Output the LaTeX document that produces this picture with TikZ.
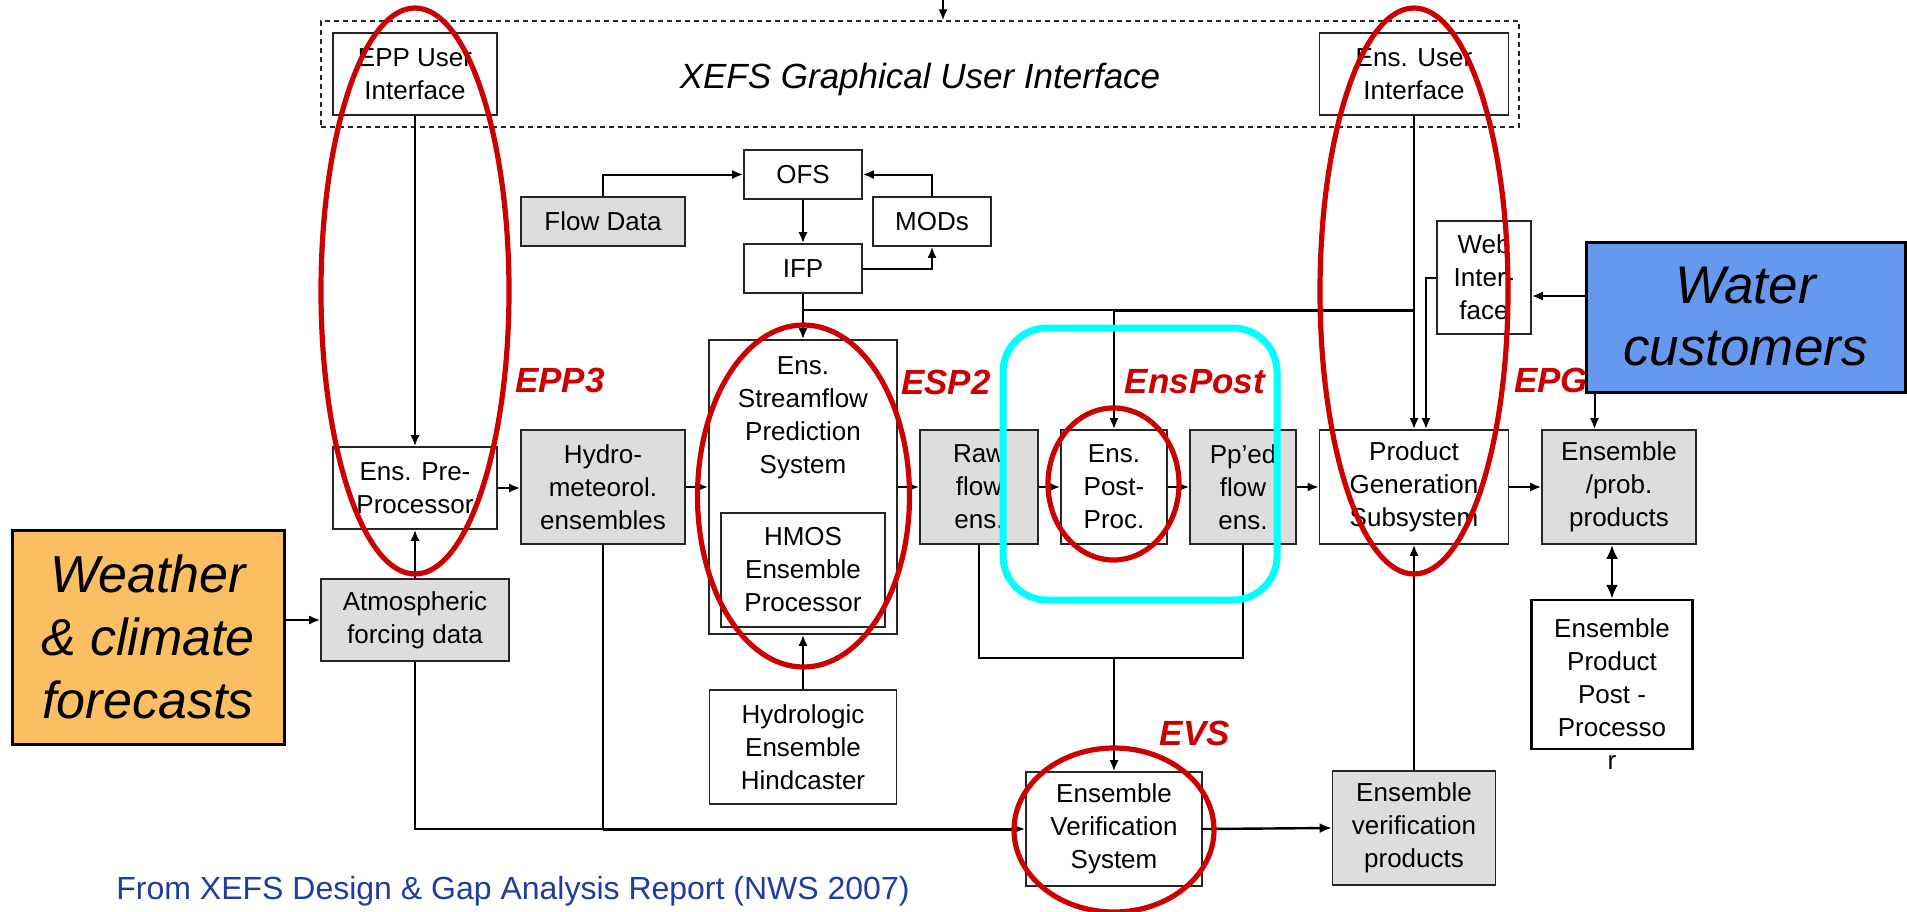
\documentclass[tikz,border=0pt]{standalone}
\usepackage{fontspec}
\setmainfont{Liberation Sans}
\usetikzlibrary{arrows.meta,calc}
\definecolor{boxgray}{HTML}{DDDDDD}
\definecolor{wxorange}{HTML}{FBBF63}
\definecolor{wcblue}{HTML}{6699EE}
\definecolor{hired}{HTML}{CC0000}
\definecolor{capblue}{HTML}{1F3C9E}
\definecolor{ringcyan}{HTML}{00FFFF}
\begin{document}
\begin{tikzpicture}[x=0.5pt,y=-0.5pt,
  box/.style={draw=black!85, line width=0.8pt, inner sep=0pt, align=center, font=\fontsize{13}{16.5}\selectfont},
  gbox/.style={box, fill=boxgray},
  plain/.style={inner sep=0pt, align=center, font=\fontsize{13}{16.5}\selectfont},
  conn/.style={line width=1pt},
  arr/.style={conn, -{Latex[length=5.5pt,width=4.5pt]}},
  dblarr/.style={line width=1.4pt, {Latex[length=7pt,width=6pt]}-{Latex[length=7pt,width=6pt]}},
  ring/.style={draw=hired, line width=2.6pt},
  tag/.style={text=hired, inner sep=0pt, font=\fontsize{17.5}{19}\selectfont\bfseries\itshape},
]
\useasboundingbox (0,0) rectangle (1907,911);
% GUI frame
\node[draw=black!85, line width=0.6pt, dash pattern=on 2.5pt off 2pt, minimum width=599pt, minimum height=53pt, inner sep=0pt] (gui) at (920,74) {};
\node[inner sep=0pt, font=\fontsize{17.5}{20}\selectfont\itshape] (guitxt) at (920,79) {XEFS Graphical User Interface};
% boxes
\node[box, minimum width=82pt, minimum height=41pt] (eppui) at (415,74) {EPP User\\Interface};
\node[box, minimum width=94.5pt, minimum height=41pt] (ensui) at (1414,74) {Ens. User\\Interface};
\node[box, minimum width=59pt, minimum height=24.5pt] (ofs) at (803,174.5) {OFS};
\node[gbox, minimum width=82pt, minimum height=24.5pt] (flow) at (603,221.5) {Flow Data};
\node[box, minimum width=59pt, minimum height=24.5pt] (mods) at (932,221.5) {MODs};
\node[box, minimum width=59pt, minimum height=24.5pt] (ifp) at (803,268.5) {IFP};
\node[box, minimum width=47pt, minimum height=56.5pt] (web) at (1484,277.5) {Web\\Inter-\\face};
\node[box, minimum width=82pt, minimum height=41pt] (enspre) at (415,488) {Ens. Pre-\\Processor};
\node[gbox, minimum width=82pt, minimum height=57pt] (hydro) at (603,487) {Hydro-\\meteorol.\\ensembles};
\node[box, minimum width=94pt, minimum height=147pt] (esp) at (803,487) {};
\node[plain, anchor=north] (esptxt) at (803,356) {Ens.\\Streamflow\\Prediction\\System};
\node[box, minimum width=82pt, minimum height=57pt] (hmos) at (803,570) {HMOS\\Ensemble\\Processor};
\node[gbox, minimum width=59pt, minimum height=57pt] (raw) at (979,487) {Raw\\flow\\ens.};
\node[box, minimum width=53pt, minimum height=57pt] (post) at (1114,487) {Ens.\\Post-\\Proc.};
\node[gbox, minimum width=53pt, minimum height=57pt] (pped) at (1243,487) {Pp’ed\\flow\\ens.};
\node[box, minimum width=94.5pt, minimum height=57pt] (prod) at (1414,487) {Product\\Generation\\Subsystem};
\node[gbox, minimum width=77pt, minimum height=57pt] (ensprob) at (1619,487) {Ensemble\\/prob.\\products};
\node[box, line width=1.2pt, draw=black, minimum width=80.5pt, minimum height=74.5pt] (eppp) at (1612,674.5) {};
\node[plain, anchor=north] (eppptxt) at (1612,618) {Ensemble\\Product\\Post -\\Processo\\r};
\node[box, draw=black, line width=1.5pt, fill=wxorange, minimum width=136pt, minimum height=107pt,
  font=\fontsize{26}{31.5}\selectfont\itshape] (weather) at (148,637) {Weather\\\& climate\\forecasts};
\node[gbox, minimum width=94pt, minimum height=41pt] (atmos) at (415,620) {Atmospheric\\forcing data};
\node[box, minimum width=93.5pt, minimum height=57pt] (hind) at (803,747) {Hydrologic\\Ensemble\\Hindcaster};
\node[box, minimum width=88pt, minimum height=57pt] (evs) at (1114,829) {Ensemble\\Verification\\System};
\node[gbox, minimum width=81.5pt, minimum height=57pt] (evp) at (1414,828) {Ensemble\\verification\\products};
% connectors
\coordinate (topin) at (943,0);
\draw[arr] (topin) -- (topin |- gui.north);
\draw[arr] (eppui.south) -- (enspre.north);
\draw[arr] (atmos.north) -- (enspre.south);
\draw[arr] (weather.east |- atmos.west) -- (atmos.west);
\draw[arr] (enspre.east) -- (hydro.west |- enspre.east);
\draw[arr] (hydro.east) -- (esp.west);
\draw[arr] (esp.east) -- (raw.west);
\draw[arr] (raw.east) -- (post.west);
\draw[arr] (post.east) -- (pped.west);
\draw[arr] (pped.east) -- (prod.west);
\draw[arr] (prod.east) -- (ensprob.west);
\draw[dblarr] (eppp.north) -- (eppp.north |- ensprob.south);
\draw[arr] (flow.north) |- (ofs.west);
\draw[arr] (mods.north) |- (ofs.east);
\draw[arr] (ofs.south) -- (ifp.north);
\draw[arr] (ifp.east) -| (mods.south);
\draw[arr] (ifp.south) -- (esp.north);
\coordinate (br) at (803,310);
\coordinate (brp) at (1114,310);
\draw[conn] (br) -- (brp);
\draw[line width=1.5pt] (brp) -- (brp -| ensui.south);
\draw[arr] (brp) -- (post.north);
\draw[arr] (ensui.south) -- (prod.north);
\draw[arr] (web.west) -| ($(prod.north)+(12,0)$);
\coordinate (fj) at (1114,658);
\draw[conn] (raw.south) |- (fj) -| (pped.south);
\draw[arr] (fj) -- (evs.north);
\coordinate (vb) at (415,829);
\draw[conn] (atmos.south) -- (vb) -- (hydro.south |- vb);
\draw[conn] (hydro.south) -- (hydro.south |- vb);
\draw[line width=1.5pt, -{Latex[length=6pt,width=5pt]}] (hydro.south |- vb) -- (evs.west |- vb);
\draw[arr] (hind.north) -- (esp.south);
\draw[line width=1.2pt, -{Latex[length=6pt,width=5pt]}] (evs.east) -- (evp.west);
\draw[arr] (evp.north) -- (prod.south);
% highlight rings
\draw[draw=ringcyan, line width=3.5pt, rounded corners=22pt] (1003,328) rectangle (1277,600);
\draw[ring] (415,291) ellipse [x radius=47pt, y radius=141.5pt];
\draw[ring] (1414,291) ellipse [x radius=47pt, y radius=141.5pt];
\draw[ring] (803.5,496) ellipse [x radius=53pt, y radius=85.5pt];
\draw[ring] (1113.5,484) ellipse [x radius=32.75pt, y radius=38pt];
\draw[ring] (1114,830) ellipse [x radius=50pt, y radius=41pt];
\node[tag] (tepp) at (560,380) {EPP3};
\node[tag] (tesp) at (946,382) {ESP2};
\node[tag] (tensp) at (1195,382) {EnsPost};
\node[tag] (tepg) at (1551,380) {EPG};
\node[tag] (tevs) at (1195,733) {EVS};
% water customers (on top)
\node[box, draw=black, line width=1.5pt, fill=wcblue, minimum width=159.5pt, minimum height=75pt,
  font=\fontsize{26.5}{31}\selectfont\itshape] (water) at (1745.5,317) {Water\\customers};
\coordinate (wdrop) at ($(water.south west)+(10,0)$);
\draw[arr] (wdrop) -- (wdrop |- ensprob.north);
\coordinate (wcin) at (1586,296);
\draw[arr] (wcin) -- (wcin -| web.east);
% caption
\node[text=capblue, inner sep=0pt, font=\fontsize{16}{18}\selectfont] (cap) at (513,891) {From XEFS Design \& Gap Analysis Report (NWS 2007)};
\end{tikzpicture}
\end{document}
